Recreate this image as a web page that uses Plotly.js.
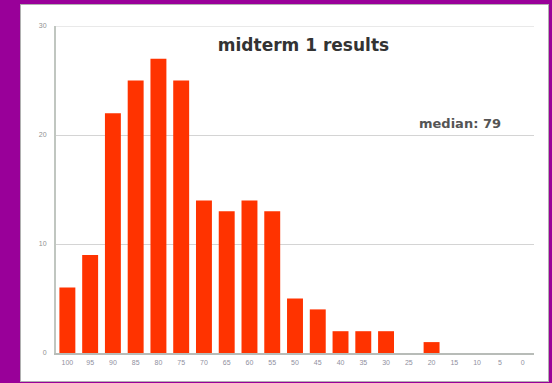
<!DOCTYPE html>
<html>
<head>
<meta charset="utf-8">
<script src="https://cdn.plot.ly/plotly-3.0.1.min.js"></script>
<style>
  html, body { margin: 0; padding: 0; background: #990099; width: 552px; height: 383px; overflow: hidden; }
  #frame { position: absolute; left: 20px; top: 4px; width: 527px; height: 376px; background: #ffffff; border: 1px solid #b0b0b0; }
  #chart { width: 527px; height: 376px; }
</style>
</head>
<body>
<div id="frame"><div id="chart"></div></div>
<script>
const scoreBins = ['100','95','90','85','80','75','70','65','60','55','50','45','40','35','30','25','20','15','10','5','0'];
const studentCounts = [6, 9, 22, 25, 27, 25, 14, 13, 14, 13, 5, 4, 2, 2, 2, 0, 1, 0, 0, 0, 0];
const yTicks = [0, 10, 20, 30];
const yMax = 30;
const chartTitle = 'midterm 1 results';
const medianLabel = 'median: 79';

const trace = {
  type: 'bar',
  x: scoreBins,
  y: studentCounts,
  marker: { color: '#ff3300', line: { color: '#c2412a', width: 0 } },
  hoverinfo: 'x+y'
};

const layout = {
  width: 527, height: 376,
  margin: { l: 35, r: 14, t: 21, b: 28 },
  paper_bgcolor: '#ffffff',
  plot_bgcolor: '#ffffff',
  bargap: 0.3,
  showlegend: false,
  font: { family: 'Arial, Liberation Sans, sans-serif', color: '#888888', size: 8 },
  title: {
    text: chartTitle,
    font: { family: 'DejaVu Sans', size: 17, color: '#333333', weight: 'bold' },
    xref: 'container', yref: 'container',
    x: 0.536, y: 0.894, xanchor: 'center', yanchor: 'middle'
  },
  xaxis: {
    type: 'category',
    showgrid: false,
    showline: true, linecolor: '#b8bcb8', linewidth: 2,
    ticks: '', tickfont: { size: 7, color: '#9090a0' },
    ticklabelstandoff: 2,
    fixedrange: true
  },
  yaxis: {
    range: [0, yMax],
    tickvals: yTicks,
    showgrid: true, gridcolor: '#d4d4d4', gridwidth: 1,
    showline: true, linecolor: '#c0c6c0', linewidth: 2,
    zeroline: false,
    ticks: '', tickfont: { size: 7, color: '#909090' },
    ticklabelstandoff: 6,
    fixedrange: true
  },
  shapes: [{
    type: 'line', xref: 'paper', yref: 'y',
    x0: 0, x1: 1, y0: yMax, y1: yMax,
    line: { color: '#d4d4d4', width: 1 }, layer: 'below'
  }],
  annotations: [{
    text: medianLabel,
    xref: 'paper', yref: 'paper',
    x: 0.935, y: 0.703, xanchor: 'right', yanchor: 'middle',
    showarrow: false,
    font: { family: 'DejaVu Sans', size: 13, color: '#555555', weight: 'bold' }
  }]
};

Plotly.newPlot('chart', [trace], layout, { displayModeBar: false, staticPlot: true });
</script>
</body>
</html>
